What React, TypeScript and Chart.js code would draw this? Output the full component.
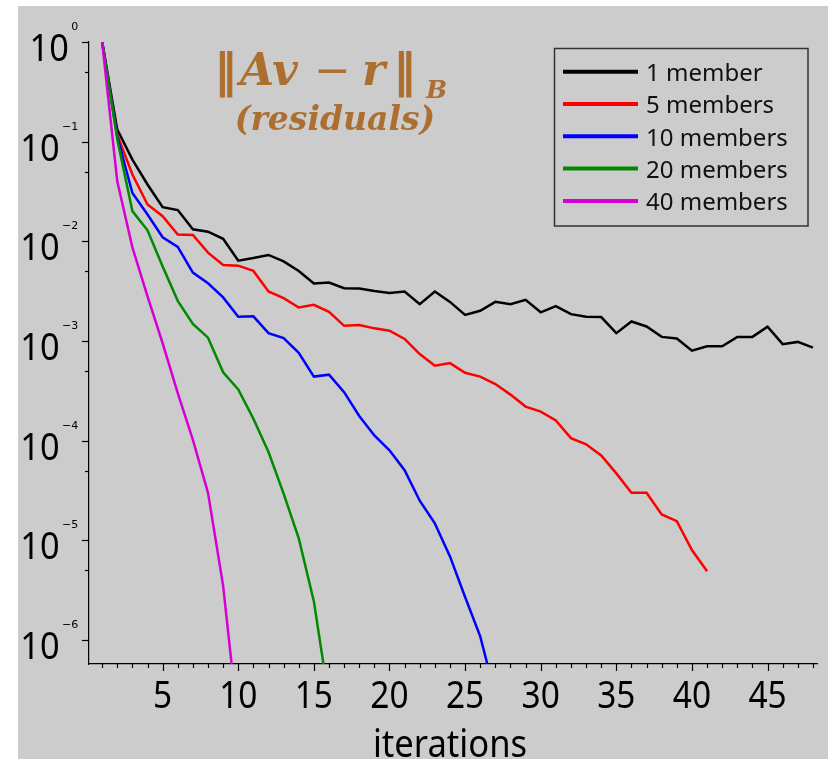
import { useEffect, useRef } from "react";
import { Chart, registerables } from "chart.js";

Chart.register(...registerables);

// ---- data ----
const iterations = [
  1, 2, 3, 4, 5, 6, 7, 8, 9, 10, 11, 12, 13, 14, 15, 16, 17, 18, 19, 20, 21, 22, 23, 24,
  25, 26, 27, 28, 29, 30, 31, 32, 33, 34, 35, 36, 37, 38, 39, 40, 41, 42, 43, 44, 45, 46, 47, 48,
];

const seriesLabels = ["1 member", "5 members", "10 members", "20 members", "40 members"];
const seriesColors = ["#000000", "#ff0000", "#0000ff", "#008a00", "#d600d6"];

const res1 = [
  1, 0.132, 0.066, 0.0372, 0.022, 0.0206, 0.0132, 0.0125, 0.0106, 6.4e-3,
  6.8e-3, 7.3e-3, 6.3e-3, 5.05e-3, 3.78e-3, 3.86e-3, 3.39e-3, 3.37e-3, 3.18e-3, 3.04e-3,
  3.14e-3, 2.34e-3, 3.14e-3, 2.47e-3, 1.83e-3, 2.01e-3, 2.47e-3, 2.34e-3, 2.59e-3, 1.94e-3,
  2.24e-3, 1.86e-3, 1.75e-3, 1.74e-3, 1.2e-3, 1.57e-3, 1.4e-3, 1.1e-3, 1.06e-3, 8.0e-4,
  8.85e-4, 8.85e-4, 1.1e-3, 1.1e-3, 1.39e-3, 9.3e-4, 9.8e-4, 8.6e-4,
];
const res5 = [
  1, 0.117, 0.0468, 0.0234, 0.0179, 0.0117, 0.0116, 7.7e-3, 5.8e-3, 5.7e-3,
  5.05e-3, 3.14e-3, 2.69e-3, 2.17e-3, 2.31e-3, 1.96e-3, 1.42e-3, 1.45e-3, 1.34e-3, 1.27e-3,
  1.05e-3, 7.4e-4, 5.66e-4, 6.0e-4, 4.8e-4, 4.4e-4, 3.7e-4, 2.9e-4, 2.2e-4, 1.96e-4,
  1.6e-4, 1.06e-4, 9.2e-5, 7.1e-5, 4.7e-5, 3.0e-5, 3.0e-5, 1.82e-5, 1.56e-5, 8.0e-6,
  4.9e-6,
];
const res10 = [
  1, 0.112, 0.0305, 0.0186, 0.011, 8.8e-3, 4.86e-3, 3.8e-3, 2.74e-3, 1.75e-3,
  1.77e-3, 1.2e-3, 1.07e-3, 7.6e-4, 4.4e-4, 4.6e-4, 3.07e-4, 1.77e-4, 1.13e-4, 8.0e-5,
  5.05e-5, 2.5e-5, 1.48e-5, 6.9e-6, 2.7e-6, 1.09e-6, 2.8e-7,
];
const res20 = [
  1, 0.105, 0.0201, 0.0129, 5.6e-3, 2.53e-3, 1.48e-3, 1.08e-3, 4.86e-4, 3.27e-4,
  1.66e-4, 7.7e-5, 2.95e-5, 1.05e-5, 2.44e-6, 2.5e-7,
];
const res40 = [1, 0.04, 8.7e-3, 2.8e-3, 9.5e-4, 3.0e-4, 1.02e-4, 3.0e-5, 3.5e-6, 1.4e-7];

const allSeries = [res1, res5, res10, res20, res40];

const yTickExponents = [0, -1, -2, -3, -4, -5, -6];
const xTickLabels = [5, 10, 15, 20, 25, 30, 35, 40, 45];
const xAxisTitle = "iterations";
const titleSub = "(residuals)";

// ---- helpers ----
function drawScaledText(
  ctx: CanvasRenderingContext2D,
  text: string,
  x: number,
  y: number,
  align: CanvasTextAlign,
  sx: number
) {
  ctx.save();
  ctx.translate(x, y);
  ctx.scale(sx, 1);
  ctx.textAlign = align;
  ctx.textBaseline = "alphabetic";
  ctx.fillText(text, 0, 0);
  ctx.restore();
}

const decorPlugin = {
  id: "decor",
  beforeDraw(chart: any) {
    const { ctx, width, height } = chart;
    ctx.save();
    ctx.fillStyle = "#ffffff";
    ctx.fillRect(0, 0, width, height);
    ctx.fillStyle = "#cccccc";
    ctx.fillRect(18, 6, width - 18, height - 6);
    ctx.restore();
  },
  afterDraw(chart: any) {
    const { ctx, chartArea } = chart;
    const xs = chart.scales.x;
    const ys = chart.scales.y;
    const SX = 0.88;
    ctx.save();
    ctx.strokeStyle = "#000";
    ctx.lineWidth = 1.2;
    // y ticks
    for (const e of yTickExponents) {
      const y = Math.round(ys.getPixelForValue(Math.pow(10, e))) + 0.5;
      ctx.beginPath();
      ctx.moveTo(chartArea.left - 7, y);
      ctx.lineTo(chartArea.left, y);
      ctx.stroke();
      const ym = ys.getPixelForValue(5 * Math.pow(10, e - 1));
      if (ym <= chartArea.bottom) {
        const yy = Math.round(ym) + 0.5;
        ctx.beginPath();
        ctx.moveTo(chartArea.left - 4, yy);
        ctx.lineTo(chartArea.left, yy);
        ctx.stroke();
      }
    }
    // x ticks
    for (const it of iterations) {
      const x = Math.round(xs.getPixelForValue(it)) + 0.5;
      const major = it % 5 === 0;
      ctx.beginPath();
      ctx.moveTo(x, chartArea.bottom);
      ctx.lineTo(x, chartArea.bottom + (major ? 7 : 4));
      ctx.stroke();
    }
    // y labels
    ctx.fillStyle = "#000";
    for (const e of yTickExponents) {
      const y = ys.getPixelForValue(Math.pow(10, e));
      const expText = e === 0 ? "0" : "\u2212" + Math.abs(e);
      const expRight = chartArea.left - 10.7;
      ctx.font = "11px 'DejaVu Sans'";
      const ew = ctx.measureText(expText).width;
      drawScaledText(ctx, expText, expRight, y - 12, "right", 1);
      ctx.font = "39px 'Noto Sans'";
      drawScaledText(ctx, "10", expRight - ew - 2.5, y + 19, "right", SX);
    }
    // x labels
    ctx.font = "38px 'Noto Sans'";
    for (const v of xTickLabels) {
      const x = xs.getPixelForValue(v);
      drawScaledText(ctx, String(v), x, chartArea.bottom + 44, "center", SX);
    }
    // x axis title
    drawScaledText(ctx, xAxisTitle, (chartArea.left + chartArea.right) / 2 - 3, 757, "center", 0.91);

    // title
    const brown = "#ad6f30";
    ctx.fillStyle = brown;
    ctx.textAlign = "left";
    ctx.textBaseline = "alphabetic";
    const base1 = 85;
    ctx.font = "bold 46px 'DejaVu Sans'";
    ctx.fillText("\u2016", 214, base1 + 1);
    ctx.font = "italic bold 44px 'DejaVu Serif'";
    ctx.fillText("Av", 240, base1);
    ctx.font = "44px 'DejaVu Serif'";
    ctx.fillText("\u2212", 314, base1);
    ctx.font = "italic bold 44px 'DejaVu Serif'";
    ctx.fillText("r", 362, base1);
    ctx.font = "bold 46px 'DejaVu Sans'";
    ctx.fillText("\u2016", 393, base1 + 1);
    ctx.font = "italic bold 25px 'DejaVu Serif'";
    ctx.fillText("B", 426, 98);
    ctx.font = "italic bold 33px 'DejaVu Serif'";
    ctx.textAlign = "center";
    ctx.fillText(titleSub, 335, 130);

    // legend
    const bx = 554.5, by = 48.5, bw = 253.5, bh = 177.5;
    ctx.strokeStyle = "#333";
    ctx.lineWidth = 1.5;
    ctx.strokeRect(bx, by, bw, bh);
    ctx.font = "24px 'Noto Sans'";
    ctx.textAlign = "left";
    chart.data.datasets.forEach((ds: any, i: number) => {
      const ly = 71.7 + i * 32.3;
      ctx.strokeStyle = ds.borderColor;
      ctx.lineWidth = 4;
      ctx.beginPath();
      ctx.moveTo(563, ly);
      ctx.lineTo(638, ly);
      ctx.stroke();
      ctx.fillStyle = "#111";
      ctx.fillText(ds.label, 646, ly + 9.3);
    });
    ctx.restore();
  },
};

export default function App() {
  const canvasRef = useRef<HTMLCanvasElement | null>(null);

  useEffect(() => {
    document.body.style.margin = "0";
    document.body.style.overflow = "hidden";
    const canvas = canvasRef.current;
    if (!canvas) return;
    const datasets = allSeries.map((series, si) => ({
      label: seriesLabels[si],
      data: series.map((v, i) => ({ x: iterations[i], y: v })),
      borderColor: seriesColors[si],
      backgroundColor: seriesColors[si],
      borderWidth: 2.5,
      pointRadius: 0,
      tension: 0,
      fill: false,
      order: allSeries.length - si,
    }));
    const chart = new Chart(canvas, {
      type: "line",
      data: { datasets },
      options: {
        responsive: false,
        animation: false,
        devicePixelRatio: 1,
        layout: { padding: { left: 89, top: 42, right: 11, bottom: 95 } },
        plugins: {
          legend: { display: false },
          tooltip: { enabled: false },
          title: { display: false },
        },
        events: [],
        scales: {
          x: {
            type: "linear",
            bounds: "data",
            min: 0.13,
            max: 48.27,
            ticks: { display: false },
            grid: { display: false, drawTicks: false },
            border: { display: true, color: "#000", width: 1.2 },
          },
          y: {
            type: "logarithmic",
            bounds: "data",
            min: 5.75e-7,
            max: 1,
            ticks: { display: false },
            grid: { display: false, drawTicks: false },
            border: { display: true, color: "#000", width: 1.2 },
          },
        },
      } as any,
      plugins: [decorPlugin],
    });
    return () => chart.destroy();
  }, []);

  return (
    <div style={{ width: 828, height: 759 }}>
      <canvas ref={canvasRef} width={828} height={759} style={{ display: "block" }} />
    </div>
  );
}
